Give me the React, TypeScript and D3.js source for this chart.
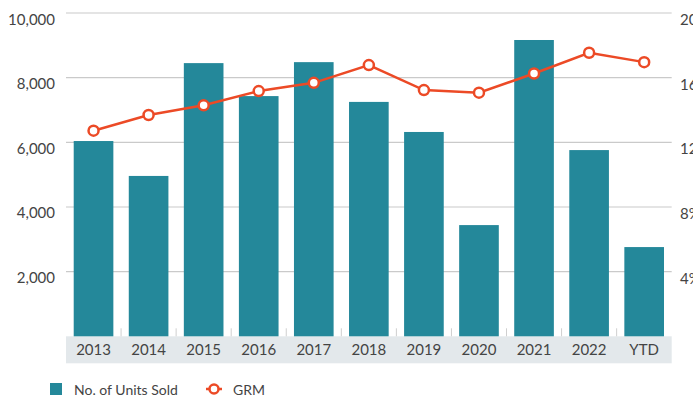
import React from "react";
import * as d3 from "d3";

const categories = ["2013", "2014", "2015", "2016", "2017", "2018", "2019", "2020", "2021", "2022", "YTD"];
const unitsSold = [6040, 4960, 8450, 7430, 8480, 7250, 6320, 3440, 9165, 5760, 2760];
const grm = [12.72, 13.69, 14.29, 15.17, 15.68, 16.78, 15.23, 15.07, 16.26, 17.54, 16.96];
const leftTicks = [2000, 4000, 6000, 8000, 10000];
const rightTicks = [4, 8, 12, 16, 20];

const W = 693;
const H = 400;
const plotLeft = 66;
const plotRight = 671.7;
const plotTop = 13;
const plotBottom = 336.3;
const barColor = "#24889a";
const lineColor = "#ec4a26";
const textColor = "#444";
const font = "Lato, 'Open Sans', sans-serif";

export default function App() {
  const x = d3.scaleBand<string>().domain(categories).range([plotLeft, plotRight]).paddingInner(0.28).paddingOuter(0.14);
  const xOuter = d3.scaleBand<string>().domain(categories).range([plotLeft, plotRight]);
  const yL = d3.scaleLinear().domain([0, 10000]).range([plotBottom, plotTop]);
  const yR = d3.scaleLinear().domain([0, 20]).range([plotBottom, plotTop]);
  const line = d3
    .line<number>()
    .x((_, i) => (x(categories[i]) as number) + x.bandwidth() / 2)
    .y((d) => yR(d));
  const fmt = d3.format(",");

  return (
    <svg width={W} height={H} style={{ position: "absolute", left: 0, top: 0 }} fontFamily={font}>
      {leftTicks.map((t) => (
        <line key={"g" + t} x1={plotLeft} x2={plotRight} y1={yL(t)} y2={yL(t)} stroke="#cacaca" strokeWidth={1.2} />
      ))}
      {leftTicks.map((t) => (
        <text key={"l" + t} x={55} y={yL(t) + 11.5} textAnchor="end" fontSize={15} fill={textColor}>
          {fmt(t)}
        </text>
      ))}
      {rightTicks.map((t) => (
        <text key={"r" + t} x={680} y={yR(t) + 12} textAnchor="start" fontSize={15} fill={textColor}>
          {t + "%"}
        </text>
      ))}
      <rect x={plotLeft} y={plotBottom} width={plotRight - plotLeft} height={27} fill="#e3e8eb" />
      {categories.slice(1).map((c) => (
        <line
          key={"t" + c}
          x1={xOuter(c) as number}
          x2={xOuter(c) as number}
          y1={plotBottom - 8}
          y2={plotBottom}
          stroke="#cfcfcf"
          strokeWidth={1}
        />
      ))}
      {categories.map((c, i) => (
        <rect
          key={"b" + c}
          x={x(c) as number}
          y={yL(unitsSold[i])}
          width={x.bandwidth()}
          height={plotBottom - yL(unitsSold[i])}
          fill={barColor}
        />
      ))}
      {categories.map((c) => (
        <text
          key={"x" + c}
          x={(xOuter(c) as number) + xOuter.bandwidth() / 2}
          y={354.5}
          textAnchor="middle"
          fontSize={15}
          fill={textColor}
        >
          {c}
        </text>
      ))}
      <path d={line(grm) || ""} fill="none" stroke={lineColor} strokeWidth={2.5} />
      {grm.map((v, i) => (
        <circle
          key={"c" + i}
          cx={(x(categories[i]) as number) + x.bandwidth() / 2}
          cy={yR(v)}
          r={5}
          fill="#fff"
          stroke={lineColor}
          strokeWidth={2.5}
        />
      ))}
      <rect x={50} y={383} width={12} height={12} fill={barColor} />
      <text x={74} y={394.5} fontSize={14} fill={textColor}>
        No. of Units Sold
      </text>
      <line x1={206} x2={222} y1={389} y2={389} stroke={lineColor} strokeWidth={2.5} />
      <circle cx={214} cy={389} r={4.5} fill="#fff" stroke={lineColor} strokeWidth={2.5} />
      <text x={233} y={394.5} fontSize={14} fill={textColor}>
        GRM
      </text>
    </svg>
  );
}
